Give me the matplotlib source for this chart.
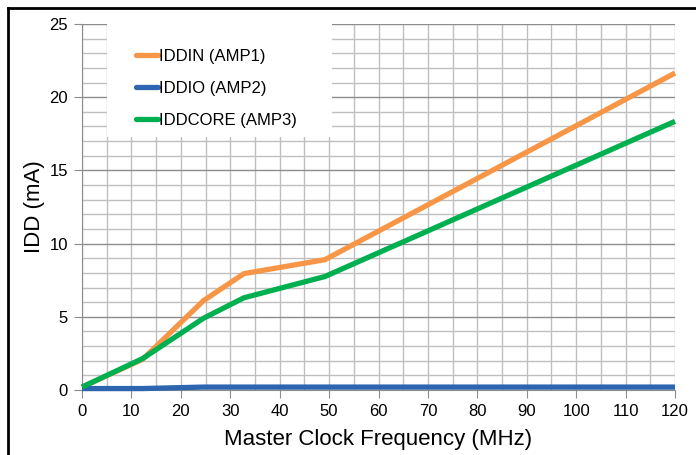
import matplotlib.pyplot as plt
from matplotlib.lines import Line2D
from matplotlib.patches import Rectangle
from matplotlib.ticker import MultipleLocator

plt.rcParams['font.family'] = ['Liberation Sans', 'DejaVu Sans']

# master clock frequencies (MHz)
freq = [0, 12.288, 24.576, 32.768, 49.152, 120]
iddin = [0.2, 2.1, 6.1, 7.95, 8.9, 21.65]
iddio = [0.1, 0.1, 0.2, 0.2, 0.2, 0.2]
iddcore = [0.2, 2.15, 4.9, 6.3, 7.75, 18.35]
labels = ['IDDIN (AMP1)', 'IDDIO (AMP2)', 'IDDCORE (AMP3)']
colors = ['#F79646', '#2E65B0', '#00B050']

fig = plt.figure(figsize=(6.96, 4.55), dpi=100)
ax = fig.add_axes([82/696, 65/455, 593/696, 366/455])

for y, lab, c in zip([iddin, iddio, iddcore], labels, colors):
    ax.plot(freq, y, color=c, lw=3.8, label=lab, solid_capstyle='butt', clip_on=False, zorder=3)

ax.set_xlim(0, 120)
ax.set_ylim(0, 25)
ax.xaxis.set_major_locator(MultipleLocator(10))
ax.xaxis.set_minor_locator(MultipleLocator(5))
ax.yaxis.set_major_locator(MultipleLocator(5))
ax.yaxis.set_minor_locator(MultipleLocator(1))
ax.grid(which='minor', color='#BFBFBF', lw=1.0)
ax.grid(which='major', axis='x', color='#BFBFBF', lw=1.0)
ax.grid(which='major', axis='y', color='#8C8C8C', lw=1.0)
ax.set_axisbelow(True)
for s in ax.spines.values():
    s.set_visible(False)
ax.spines['left'].set_visible(True)
ax.spines['left'].set_color('#8C8C8C')
ax.spines['bottom'].set_visible(True)
ax.spines['bottom'].set_color('#8C8C8C')
ax.tick_params(which='major', length=6, color='#8C8C8C', labelsize=12, pad=4)
ax.tick_params(which='minor', length=0)
ax.set_xlabel('Master Clock Frequency (MHz)', fontsize=16, labelpad=7)
ax.set_ylabel('IDD (mA)', fontsize=16, labelpad=3)

# white legend box over the grid
ax.add_patch(Rectangle((0.042, 0.691), 0.38, 0.309, transform=ax.transAxes,
                       facecolor='white', edgecolor='none', zorder=2))
leg = ax.legend(loc='upper left', bbox_to_anchor=(0.091, 0.931), fontsize=12,
                frameon=False, handlelength=1.3, handletextpad=0.1,
                labelspacing=1.0, borderpad=0, borderaxespad=0)
for h in leg.get_lines():
    h.set_solid_capstyle('round')

# outer frame (only left and top visible)
fig.add_artist(Line2D([7.5/696, 7.5/696], [0, 1 - 8/455], color='black', lw=2, transform=fig.transFigure))
fig.add_artist(Line2D([7.5/696, 1], [1 - 8/455, 1 - 8/455], color='black', lw=2, transform=fig.transFigure))

fig.savefig('out.png', dpi=100)
